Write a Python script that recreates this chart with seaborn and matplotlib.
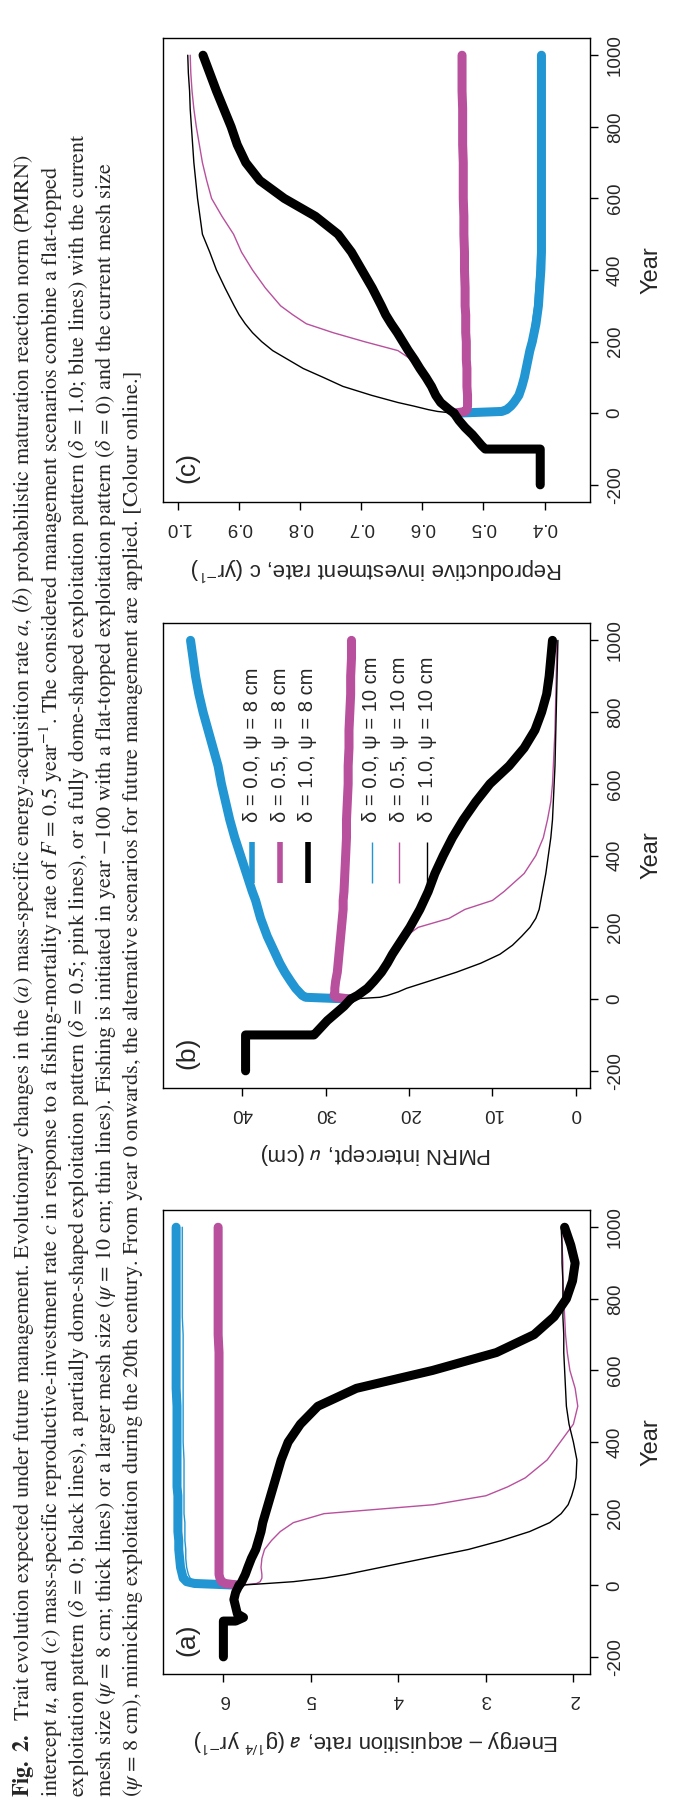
import numpy as np
import pandas as pd
import matplotlib
matplotlib.use('Agg')
import matplotlib.pyplot as plt
import seaborn as sns

sns.set_style('ticks')
plt.rcParams['font.family'] = ['Liberation Sans', 'DejaVu Sans']
plt.rcParams['axes.unicode_minus'] = False
plt.rcParams['mathtext.fontset'] = 'stixsans'

blue = '#2196D3'
pink = '#B8509E'

# years -200..0: historical fishing, shared by all scenarios
hist_years = [-200, -100, -100, -90, -80, -60, -40, -20, 0]
years = [0, 5, 10, 20, 30, 50, 75, 100, 125, 150, 175, 200, 225, 250, 275, 300,
         350, 400, 450, 500, 550, 600, 650, 700, 750, 800, 850, 900, 950, 1000]

# (a) energy-acquisition rate
a_hist = [6.0, 6.0, 5.86, 5.77, 5.84, 5.86, 5.88, 5.86, 5.82]
a_d00_8 = [5.82, 6.33, 6.42, 6.46, 6.47, 6.49, 6.50, 6.51, 6.51, 6.52, 6.52, 6.52, 6.52, 6.52, 6.53, 6.53,
           6.53, 6.53, 6.53, 6.53, 6.54, 6.54, 6.54, 6.54, 6.54, 6.54, 6.54, 6.54, 6.54, 6.54]
a_d05_8 = [5.82, 5.98, 6.02, 6.04, 6.05, 6.05, 6.05, 6.05, 6.05, 6.05, 6.05, 6.05, 6.05, 6.05, 6.05, 6.05,
           6.05, 6.05, 6.05, 6.05, 6.05, 6.05, 6.05, 6.06, 6.06, 6.06, 6.06, 6.06, 6.06, 6.06]
a_d10_8 = [5.82, 5.80, 5.79, 5.77, 5.75, 5.72, 5.68, 5.63, 5.60, 5.57, 5.55, 5.52, 5.49, 5.46, 5.43, 5.40,
           5.34, 5.26, 5.12, 4.92, 4.48, 3.61, 2.88, 2.45, 2.22, 2.08, 2.01, 1.98, 2.03, 2.10]
a_d00_10 = [5.82, 6.25, 6.34, 6.38, 6.40, 6.42, 6.43, 6.43, 6.44, 6.44, 6.44, 6.45, 6.45, 6.45, 6.45, 6.45,
            6.45, 6.46, 6.46, 6.46, 6.46, 6.46, 6.46, 6.46, 6.47, 6.47, 6.47, 6.47, 6.47, 6.47]
a_d05_10 = [5.82, 5.62, 5.58, 5.56, 5.56, 5.57, 5.56, 5.53, 5.45, 5.35, 5.20, 4.85, 3.60, 3.00, 2.75, 2.55,
            2.30, 2.15, 2.00, 1.95, 1.98, 2.04, 2.07, 2.09, 2.10, 2.11, 2.12, 2.12, 2.13, 2.13]
a_d10_10 = [5.82, 5.50, 5.20, 4.85, 4.60, 4.20, 3.70, 3.20, 2.82, 2.50, 2.27, 2.14, 2.06, 2.02, 1.99, 1.97,
            1.96, 2.00, 2.05, 2.08, 2.09, 2.10, 2.11, 2.11, 2.12, 2.12, 2.12, 2.13, 2.13, 2.14]

# (b) PMRN intercept
b_hist = [39.6, 39.6, 31.4, 31.0, 30.6, 29.8, 28.8, 27.8, 27.0]
b_d00_8 = [27.0, 32.4, 32.8, 33.2, 33.6, 34.2, 34.9, 35.5, 36.0, 36.5, 37.0, 37.4, 37.8, 38.1, 38.4, 38.8,
           39.5, 40.2, 40.9, 41.5, 42.0, 42.5, 42.9, 43.5, 44.1, 44.7, 45.2, 45.6, 45.9, 46.2]
b_d05_8 = [27.0, 28.8, 29.0, 28.9, 28.9, 28.8, 28.6, 28.5, 28.4, 28.3, 28.2, 28.1, 28.0, 27.9, 27.9, 27.8,
           27.7, 27.6, 27.5, 27.5, 27.4, 27.3, 27.3, 27.2, 27.2, 27.1, 27.0, 27.0, 26.9, 26.9]
b_d10_8 = [27.0, 26.6, 26.2, 25.6, 25.0, 24.2, 23.3, 22.6, 22.0, 21.3, 20.6, 19.9, 19.3, 18.7, 18.2, 17.7,
           16.9, 15.9, 14.8, 13.5, 12.0, 10.3, 8.0, 6.2, 4.9, 4.1, 3.5, 3.2, 3.0, 2.8]
b_d00_10 = [27.0, 32.0, 32.5, 33.0, 33.3, 33.9, 34.6, 35.2, 35.7, 36.2, 36.7, 37.1, 37.5, 37.8, 38.1, 38.5,
            39.2, 39.9, 40.6, 41.2, 41.7, 42.2, 42.6, 43.2, 43.8, 44.4, 44.9, 45.3, 45.6, 45.9]
b_d05_10 = [27.0, 26.0, 25.5, 25.0, 24.6, 24.0, 23.2, 22.5, 21.8, 21.2, 20.4, 18.9, 15.2, 13.3, 10.0, 8.6,
            6.2, 4.8, 3.9, 3.4, 3.0, 2.8, 2.7, 2.6, 2.5, 2.45, 2.4, 2.35, 2.3, 2.3]
b_d10_10 = [27.0, 23.5, 22.6, 21.3, 20.3, 17.6, 14.3, 11.4, 9.1, 7.6, 6.5, 5.5, 4.8, 4.4, 4.2, 4.0,
            3.6, 3.3, 3.0, 2.8, 2.7, 2.6, 2.5, 2.45, 2.4, 2.35, 2.3, 2.25, 2.2, 2.15]

# (c) reproductive investment rate
c_hist = [0.407, 0.407, 0.497, 0.503, 0.508, 0.518, 0.530, 0.540, 0.548]
c_d00_8 = [0.548, 0.470, 0.462, 0.455, 0.450, 0.442, 0.437, 0.433, 0.430, 0.427, 0.424, 0.420, 0.417, 0.414, 0.412, 0.410,
           0.408, 0.406, 0.405, 0.405, 0.405, 0.405, 0.405, 0.405, 0.405, 0.405, 0.405, 0.405, 0.405, 0.405]
c_d05_8 = [0.548, 0.530, 0.527, 0.526, 0.526, 0.526, 0.527, 0.527, 0.527, 0.528, 0.528, 0.528, 0.529, 0.529, 0.529, 0.530,
           0.530, 0.531, 0.531, 0.532, 0.532, 0.533, 0.533, 0.533, 0.534, 0.534, 0.534, 0.535, 0.535, 0.535]
c_d10_8 = [0.548, 0.552, 0.556, 0.563, 0.570, 0.578, 0.585, 0.594, 0.604, 0.613, 0.623, 0.632, 0.641, 0.651, 0.660, 0.667,
           0.682, 0.699, 0.716, 0.738, 0.775, 0.826, 0.866, 0.889, 0.903, 0.913, 0.925, 0.937, 0.948, 0.959]
c_d00_10 = [0.548, 0.475, 0.468, 0.460, 0.455, 0.447, 0.441, 0.437, 0.434, 0.431, 0.428, 0.425, 0.422, 0.420, 0.418, 0.416,
            0.414, 0.412, 0.411, 0.410, 0.410, 0.410, 0.410, 0.410, 0.410, 0.410, 0.410, 0.410, 0.410, 0.410]
c_d05_10 = [0.548, 0.552, 0.556, 0.563, 0.570, 0.578, 0.588, 0.597, 0.607, 0.618, 0.640, 0.695, 0.746, 0.790, 0.812, 0.832,
            0.857, 0.878, 0.896, 0.909, 0.928, 0.945, 0.953, 0.960, 0.965, 0.970, 0.974, 0.977, 0.979, 0.980]
c_d10_10 = [0.548, 0.575, 0.590, 0.614, 0.640, 0.683, 0.730, 0.762, 0.795, 0.820, 0.845, 0.863, 0.878, 0.890, 0.900, 0.908,
            0.923, 0.937, 0.948, 0.960, 0.964, 0.968, 0.971, 0.974, 0.976, 0.978, 0.980, 0.981, 0.983, 0.984]

legend_labels = ['δ = 0.0, ψ = 8 cm', 'δ = 0.5, ψ = 8 cm', 'δ = 1.0, ψ = 8 cm',
                 'δ = 0.0, ψ = 10 cm', 'δ = 0.5, ψ = 10 cm', 'δ = 1.0, ψ = 10 cm']
colours = [blue, pink, 'black']

caption = [
    r"$\mathbf{Fig.\ 2.}$  Trait evolution expected under future management. Evolutionary changes in the $(a)$ mass-specific energy-acquisition rate $a$, $(b)$ probabilistic maturation reaction norm (PMRN)",
    r"intercept $u$, and $(c)$ mass-specific reproductive-investment rate $c$ in response to a fishing-mortality rate of $F$ = 0.5 year$^{-1}$. The considered management scenarios combine a flat-topped",
    r"exploitation pattern ($\delta$ = 0; black lines), a partially dome-shaped exploitation pattern ($\delta$ = 0.5; pink lines), or a fully dome-shaped exploitation pattern ($\delta$ = 1.0; blue lines) with the current",
    r"mesh size ($\psi$ = 8 cm; thick lines) or a larger mesh size ($\psi$ = 10 cm; thin lines). Fishing is initiated in year −100 with a flat-topped exploitation pattern ($\delta$ = 0) and the current mesh size",
    r"($\psi$ = 8 cm), mimicking exploitation during the 20th century. From year 0 onwards, the alternative scenarios for future management are applied. [Colour online.]",
]

fig = plt.figure(figsize=(6.75, 18.02), dpi=100)

# page is turned: Year runs upwards, trait value runs to the left
panels = [
    ('a', [0.2415, 0.0710, 0.6326, 0.2575], a_hist, [a_d00_8, a_d05_8, a_d10_8], [a_d00_10, a_d05_10, a_d10_10],
     (6.69, 1.81), [2, 3, 4, 5, 6], ['2', '3', '4', '5', '6'],
     r"Energy – acquisition rate, $a$ (g$^{1/4}$ yr$^{-1}$)"),
    ('b', [0.2415, 0.3962, 0.6326, 0.2580], b_hist, [b_d00_8, b_d05_8, b_d10_8], [b_d00_10, b_d05_10, b_d10_10],
     (49.5, -1.7), [0, 10, 20, 30, 40], ['0', '10', '20', '30', '40'],
     r"PMRN intercept, $u$ (cm)"),
    ('c', [0.2415, 0.7214, 0.6326, 0.2575], c_hist, [c_d00_8, c_d05_8, c_d10_8], [c_d00_10, c_d05_10, c_d10_10],
     (1.0245, 0.3255), [0.4, 0.5, 0.6, 0.7, 0.8, 0.9, 1.0], ['0.4', '0.5', '0.6', '0.7', '0.8', '0.9', '1.0'],
     r"Reproductive investment rate, c (yr$^{-1}$)"),
]

for tag, box, hist, thick, thin, xlim, xt, xtl, xlab in panels:
    ax = fig.add_axes(box)
    for vals, col in zip(thin, colours):
        sns.lineplot(x=vals, y=years, sort=False, estimator=None, color=col, linewidth=1.0, ax=ax)
    for vals, col in zip(thick, colours):
        sns.lineplot(x=vals, y=years, sort=False, estimator=None, color=col, linewidth=6.5, ax=ax)
    sns.lineplot(x=hist, y=hist_years, sort=False, estimator=None, color='black', linewidth=6.5, ax=ax)

    ax.set_xlim(*xlim)
    ax.set_ylim(-248, 1048)
    ax.set_xticks(xt)
    ax.set_xticklabels(xtl, rotation=180)
    ax.set_yticks(range(-200, 1001, 200))
    ax.yaxis.tick_right()
    ax.yaxis.set_label_position('right')
    ax.set_ylabel('Year', fontsize=17, labelpad=12)
    ax.set_xlabel(xlab, rotation=180, fontsize=16, labelpad=14)
    ax.tick_params(axis='both', length=6, width=1, labelsize=13.5, color='black', pad=6)
    ax.tick_params(axis='y', labelrotation=90)
    for t in ax.get_yticklabels():
        t.set_va('center')
    for s in ax.spines.values():
        s.set_visible(True)
        s.set_linewidth(1)
        s.set_color('black')
    ax.text(0.058, 0.075, f'({tag})', rotation=90, transform=ax.transAxes,
            fontsize=19, ha='center', va='center')

    if tag == 'b':
        kx = [0.209, 0.275, 0.339, 0.489, 0.553, 0.619]
        for i, lab in enumerate(legend_labels):
            lw = 4 if i < 3 else 1
            ax.plot([kx[i], kx[i]], [0.441, 0.529], color=colours[i % 3], lw=lw,
                    transform=ax.transAxes, solid_capstyle='butt')
            ax.text(kx[i], 0.572, lab, rotation=90, transform=ax.transAxes,
                    fontsize=14.5, ha='center', va='bottom')

cap_x = [24, 51, 78.5, 106, 133]
for x, line in zip(cap_x, caption):
    fig.text(x / 675, 1 - 1797 / 1802, line, rotation=90, ha='center', va='bottom',
             fontsize=16, family=['STIXGeneral', 'DejaVu Serif'], math_fontfamily='stix')

fig.savefig('out.png', dpi=100)
